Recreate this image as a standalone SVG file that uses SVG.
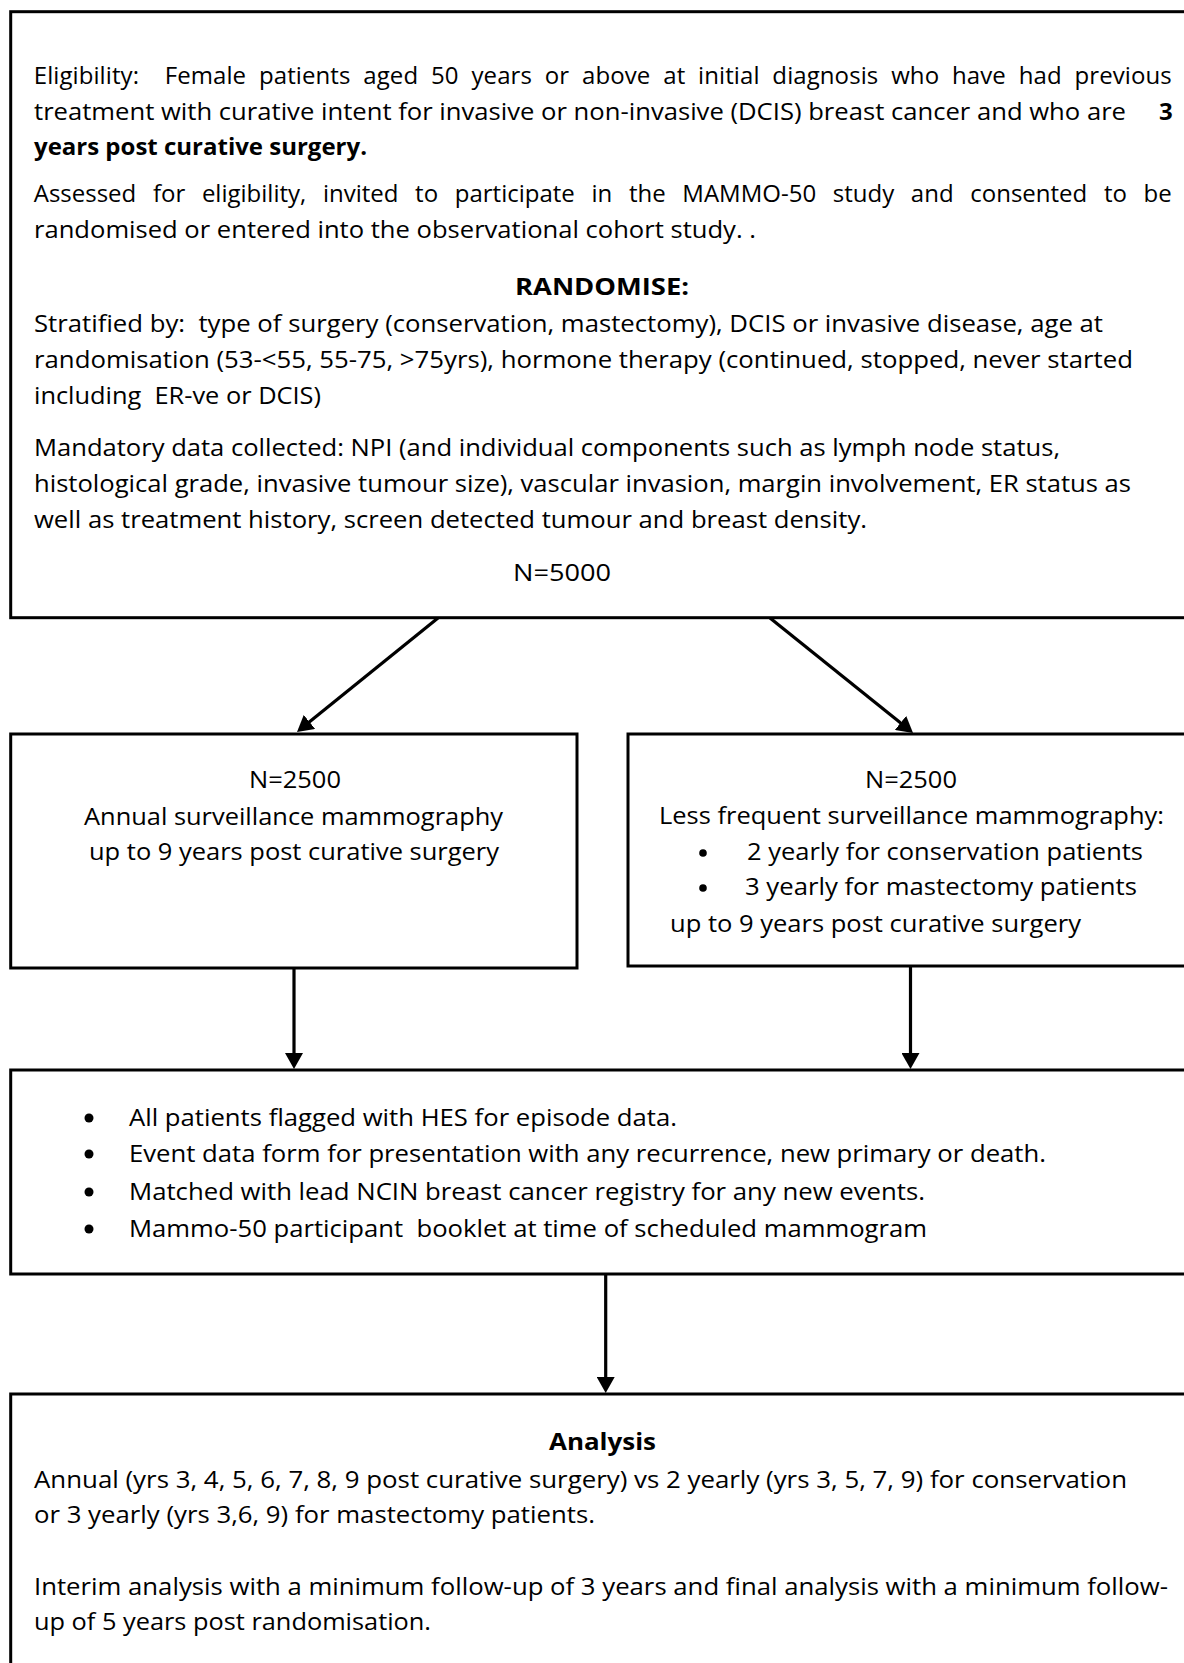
<svg xmlns="http://www.w3.org/2000/svg" width="1184" height="1663" viewBox="0 0 1184 1663" xml:space="preserve">
<defs>
<style>
.box{fill:#fff;stroke:#000;stroke-width:3}
.t{font-family:"Open Sans","Liberation Sans",sans-serif;font-size:24px;fill:#000;white-space:pre}
.b{font-weight:bold}
.c{stroke:#000;stroke-width:3.2;fill:none}
</style>
<marker id="ah" markerUnits="userSpaceOnUse" markerWidth="18" markerHeight="18" refX="3" refY="9" orient="auto">
<path d="M0,0 L16,9 L0,18 z" fill="#000"/>
</marker>
</defs>
<rect width="1184" height="1663" fill="#fff"/>

<g id="connectors">
<line class="c" x1="438" y1="618" x2="307.1" y2="723.8" marker-end="url(#ah)"/>
<line class="c" x1="770" y1="618" x2="902.9" y2="724.8" marker-end="url(#ah)"/>
<line class="c" x1="294" y1="968" x2="294" y2="1056" marker-end="url(#ah)"/>
<line class="c" x1="910.5" y1="966" x2="910.5" y2="1056" marker-end="url(#ah)"/>
<line class="c" x1="605.7" y1="1274" x2="605.7" y2="1380" marker-end="url(#ah)"/>
</g>

<g id="eligibility">
<rect class="box" x="10.7" y="11.7" width="1200" height="606"/>
<text class="t" x="33.7" y="84" style="word-spacing:6.5px" textLength="1138" lengthAdjust="spacing">Eligibility:  Female patients aged 50 years or above at initial diagnosis who have had previous</text>
<text class="t" x="34" y="119.5" textLength="1092" lengthAdjust="spacingAndGlyphs">treatment with curative intent for invasive or non-invasive (DCIS) breast cancer and who are</text>
<text class="t b" x="1159" y="119.5">3</text>
<text class="t b" x="34" y="154.5" textLength="333" lengthAdjust="spacingAndGlyphs">years post curative surgery.</text>
<text class="t" x="33.7" y="202" style="word-spacing:10.4px" textLength="1138" lengthAdjust="spacing">Assessed for eligibility, invited to participate in the MAMMO-50 study and consented to be</text>
<text class="t" x="34" y="238" textLength="722" lengthAdjust="spacingAndGlyphs">randomised or entered into the observational cohort study. .</text>
<text class="t b" x="515" y="295" textLength="174" lengthAdjust="spacingAndGlyphs">RANDOMISE:</text>
<text class="t" x="34" y="332" textLength="1069" lengthAdjust="spacingAndGlyphs">Stratified by:  type of surgery (conservation, mastectomy), DCIS or invasive disease, age at</text>
<text class="t" x="34" y="368" textLength="1099" lengthAdjust="spacingAndGlyphs">randomisation (53-&lt;55, 55-75, &gt;75yrs), hormone therapy (continued, stopped, never started</text>
<text class="t" x="34" y="404" textLength="287" lengthAdjust="spacingAndGlyphs">including  ER-ve or DCIS)</text>
<text class="t" x="34" y="456" textLength="1026" lengthAdjust="spacingAndGlyphs">Mandatory data collected: NPI (and individual components such as lymph node status,</text>
<text class="t" x="34" y="492" textLength="1097" lengthAdjust="spacingAndGlyphs">histological grade, invasive tumour size), vascular invasion, margin involvement, ER status as</text>
<text class="t" x="34" y="528" textLength="833" lengthAdjust="spacingAndGlyphs">well as treatment history, screen detected tumour and breast density.</text>
<text class="t" x="513" y="581" textLength="98" lengthAdjust="spacingAndGlyphs">N=5000</text>
</g>

<g id="annual">
<rect class="box" x="10.7" y="734" width="566.3" height="234"/>
<text class="t" x="249" y="788" textLength="92" lengthAdjust="spacingAndGlyphs">N=2500</text>
<text class="t" x="84" y="825" textLength="419" lengthAdjust="spacingAndGlyphs">Annual surveillance mammography</text>
<text class="t" x="89" y="860" textLength="410" lengthAdjust="spacingAndGlyphs">up to 9 years post curative surgery</text>
</g>

<g id="less-frequent">
<rect class="box" x="628" y="734" width="600" height="232"/>
<text class="t" x="865" y="788" textLength="92" lengthAdjust="spacingAndGlyphs">N=2500</text>
<text class="t" x="659" y="824" textLength="505" lengthAdjust="spacingAndGlyphs">Less frequent surveillance mammography:</text>
<circle cx="703" cy="853" r="3.8"/>
<text class="t" x="747" y="860" textLength="396" lengthAdjust="spacingAndGlyphs">2 yearly for conservation patients</text>
<circle cx="703" cy="888" r="3.8"/>
<text class="t" x="745" y="895" textLength="392" lengthAdjust="spacingAndGlyphs">3 yearly for mastectomy patients</text>
<text class="t" x="670" y="932" textLength="411" lengthAdjust="spacingAndGlyphs">up to 9 years post curative surgery</text>
</g>

<g id="follow-up">
<rect class="box" x="10.7" y="1070" width="1200" height="204"/>
<circle cx="89" cy="1118" r="4.5"/>
<text class="t" x="129" y="1126" textLength="548" lengthAdjust="spacingAndGlyphs">All patients flagged with HES for episode data.</text>
<circle cx="89" cy="1154" r="4.5"/>
<text class="t" x="129" y="1162" textLength="917" lengthAdjust="spacingAndGlyphs">Event data form for presentation with any recurrence, new primary or death.</text>
<circle cx="89" cy="1192" r="4.5"/>
<text class="t" x="129" y="1200" textLength="796" lengthAdjust="spacingAndGlyphs">Matched with lead NCIN breast cancer registry for any new events.</text>
<circle cx="89" cy="1229" r="4.5"/>
<text class="t" x="129" y="1237" textLength="798" lengthAdjust="spacingAndGlyphs">Mammo-50 participant  booklet at time of scheduled mammogram</text>
</g>

<g id="analysis">
<rect class="box" x="10.7" y="1394" width="1200" height="300"/>
<text class="t b" x="549" y="1450" textLength="107" lengthAdjust="spacingAndGlyphs">Analysis</text>
<text class="t" x="34" y="1488" textLength="1093" lengthAdjust="spacingAndGlyphs">Annual (yrs 3, 4, 5, 6, 7, 8, 9 post curative surgery) vs 2 yearly (yrs 3, 5, 7, 9) for conservation</text>
<text class="t" x="34" y="1523" textLength="561" lengthAdjust="spacingAndGlyphs">or 3 yearly (yrs 3,6, 9) for mastectomy patients.</text>
<text class="t" x="34" y="1595" textLength="1134" lengthAdjust="spacingAndGlyphs">Interim analysis with a minimum follow-up of 3 years and final analysis with a minimum follow-</text>
<text class="t" x="34" y="1630" textLength="397" lengthAdjust="spacingAndGlyphs">up of 5 years post randomisation.</text>
</g>
</svg>
